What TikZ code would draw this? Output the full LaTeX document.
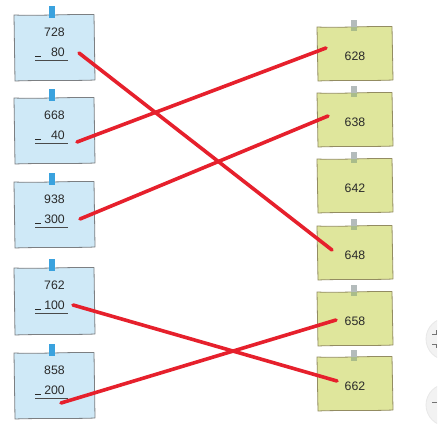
\documentclass[tikz,border=0pt]{standalone}
\usepackage{fontspec}
\setmainfont{Liberation Sans}
\usetikzlibrary{calc}
\definecolor{boxblue}{HTML}{CFE9F7}
\definecolor{boxbluedraw}{HTML}{7C7F82}
\definecolor{boxgreen}{HTML}{DFE69C}
\definecolor{boxgreendraw}{HTML}{938C62}
\definecolor{tapeblue}{HTML}{3AA2DE}
\definecolor{tapegrey}{HTML}{B4BCBC}
\definecolor{tapegreen}{HTML}{A9BC8A}
\definecolor{linered}{HTML}{E6202C}
\definecolor{txt}{HTML}{2A2A2A}
\tikzset{
  bluebox/.style={fill=boxblue, draw=boxbluedraw, line width=0.8pt, line join=round},
  greenbox/.style={fill=boxgreen, draw=boxgreendraw, line width=0.8pt, line join=round},
  numtext/.style={text=txt, font=\fontsize{12.3}{14}\selectfont, inner sep=0pt},
  underl/.style={draw=txt!85, line width=1.1pt},
  minus/.style={draw=txt, line width=1pt},
  matchline/.style={draw=linered, line width=3.6pt, line cap=round},
  uibtn/.style={fill=black!5, draw=black!9, line width=0.8pt},
}
\begin{document}
\begin{tikzpicture}[x=1pt,y=-1pt]
\useasboundingbox (0,0) rectangle (437,441);
\clip (0,0) rectangle (437,441);
\fill[white] (0,0) rectangle (437,441);
% left blue notes
\foreach \i/\t/\b/\a/\s in {1/15/80/728/80, 2/98/163/668/40, 3/182/247/938/300, 4/268/334/762/100, 5/353/418/858/200} {
  \path[bluebox] (14,\t) .. controls (40,\t+1) and (70,\t-1) .. (94,\t-0.5) -- (95,\b) .. controls (70,\b+1) and (40,\b) .. (15,\b+1) -- cycle;
  \fill[tapeblue] (49,\t-9) rectangle (55,\t+3);
  \node[numtext] (La\i) at (54.5,\t+17.5) {\a};
  \node[numtext, anchor=east] (Lb\i) at (65,\t+37) {\s};
  \draw[minus] (35,\t+41.5) -- (41,\t+41.5);
  \draw[underl] (35,\t+45.5) -- (68,\t+45.5);
}
% right green notes
\foreach \i/\t/\n in {1/27/628, 2/93/638, 3/159/642, 4/226/648, 5/292/658, 6/357/662} {
  \path[greenbox] (317,\t) .. controls (340,\t+1) and (370,\t-1) .. (392,\t-0.5) -- (393,\t+53) .. controls (370,\t+54) and (340,\t+53) .. (318,\t+54) -- cycle;
  \fill[tapegrey] (351,\t-7) rectangle (357,\t);
  \fill[tapegreen] (351,\t) rectangle (357,\t+4);
  \node[numtext] (R\i) at (355,\t+29) {\n};
}
% connector end points
\coordinate (s1) at (79,53);
\coordinate (s2) at (77,142);
\coordinate (s3) at (80,219);
\coordinate (s4) at (73,305);
\coordinate (s5) at (61,403);
\coordinate (e1) at (326,48);
\coordinate (e2) at (328,116);
\coordinate (e4) at (332,250);
\coordinate (e5) at (336,320);
\coordinate (e6) at (337,381);
% matching lines
\draw[matchline] (s1) -- (e4);
\draw[matchline] (s2) -- (e1);
\draw[matchline] (s3) -- (e2);
\draw[matchline] (s4) -- (e6);
\draw[matchline] (s5) -- (e5);
% partial UI buttons at right edge
\path[uibtn] (447,339) circle (21);
\path[uibtn] (447,405) circle (21);
\path[uibtn] (447,468) circle (21);
\draw[black!55, line width=0.9pt] (432,334) -- (436,334) -- (436,330);
\draw[black!55, line width=0.9pt] (432,344) -- (436,344) -- (436,348);
\draw[black!55, line width=1pt] (432,402) -- (437,402);
\end{tikzpicture}
\end{document}
